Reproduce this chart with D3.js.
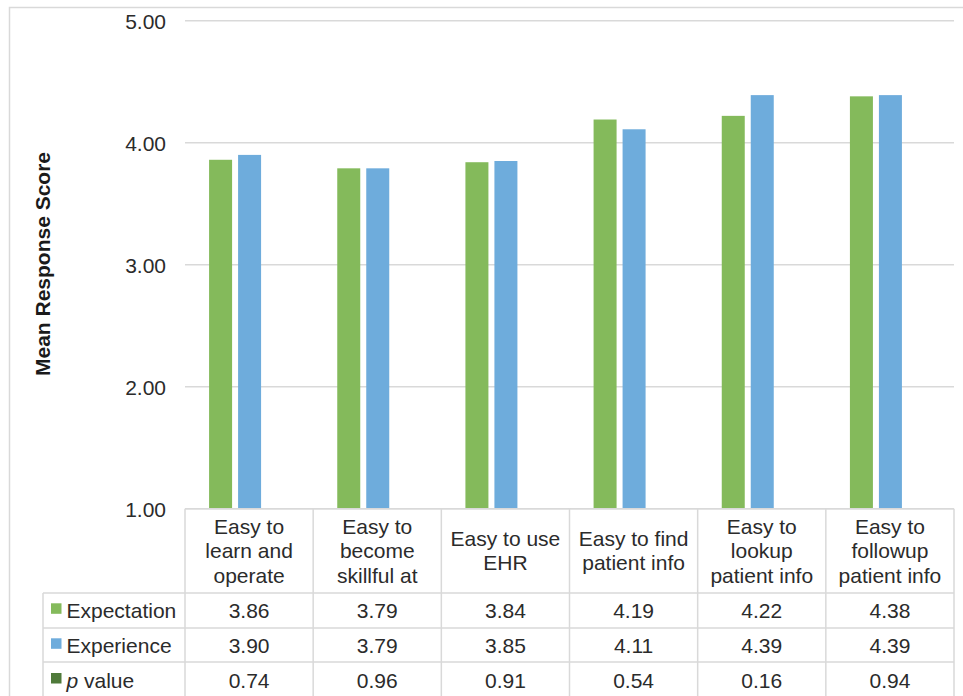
<!DOCTYPE html>
<html>
<head>
<meta charset="utf-8">
<script src="https://cdn.jsdelivr.net/npm/d3@7/dist/d3.min.js"></script>
<style>
  html, body { margin: 0; padding: 0; background: #fff; }
  svg { display: block; font-family: "Liberation Sans", Arial, sans-serif; }
</style>
</head>
<body>
<svg id="chart" width="963" height="696"></svg>
<script>
// Survey items (header lines of the data table)
const categories = [
  ["Easy to", "learn and", "operate"],
  ["Easy to", "become", "skillful at"],
  ["Easy to use", "EHR"],
  ["Easy to find", "patient info"],
  ["Easy to", "lookup", "patient info"],
  ["Easy to", "followup", "patient info"]
];
const expectation = [3.86, 3.79, 3.84, 4.19, 4.22, 4.38];
const experience  = [3.90, 3.79, 3.85, 4.11, 4.39, 4.39];
const pValues     = [0.74, 0.96, 0.91, 0.54, 0.16, 0.94];
const yTicks      = [1, 2, 3, 4, 5];
const seriesNames = ["Expectation", "Experience", "p value"];
const seriesColors = ["#84ba5b", "#6eacdc", "#4f7a3a"];

const svg = d3.select("#chart");
const W = 963, H = 696;
const plotLeft = 185, plotRight = 954, plotTop = 20.7, plotBottom = 508.7;
const gridColor = "#d9d9d9", textColor = "#2b2b2b";
const fontSize = 21;

// Outer chart frame
svg.append("rect")
  .attr("x", 9.5).attr("y", 7.5).attr("width", 970).attr("height", 700)
  .attr("fill", "none").attr("stroke", gridColor).attr("stroke-width", 1.5);

const keys = categories.map((c, i) => "c" + i);
const x = d3.scaleBand().domain(keys).range([plotLeft, plotRight]);
const y = d3.scaleLinear().domain([1, 5]).range([plotBottom, plotTop]);

// Bars sit slightly left of their table columns
const barShift = -14;
const barW = 23, barGap = 6;

// Gridlines
svg.append("g").selectAll("line").data(yTicks).join("line")
  .attr("x1", plotLeft).attr("x2", plotRight)
  .attr("y1", d => y(d)).attr("y2", d => y(d))
  .attr("stroke", gridColor).attr("stroke-width", 1.5);

// Y axis tick labels
const yAxis = d3.axisLeft(y).tickValues(yTicks).tickFormat(d3.format(".2f")).tickSize(0).tickPadding(0);
const yg = svg.append("g").attr("transform", `translate(166,0)`).call(yAxis);
yg.select(".domain").remove();
yg.selectAll("text")
  .attr("font-size", fontSize).attr("fill", textColor)
  .attr("font-family", "Liberation Sans, Arial, sans-serif")
  .attr("dy", "0.35em");

// Y axis title
svg.append("text")
  .attr("transform", `translate(50,264) rotate(-90)`)
  .attr("text-anchor", "middle")
  .attr("font-size", 21).attr("font-weight", "bold").attr("fill", "#1a1a1a")
  .text("Mean Response Score");

// Bars
const series = [expectation, experience];
series.forEach((vals, s) => {
  svg.append("g").selectAll("rect").data(vals).join("rect")
    .attr("x", (d, i) => x(keys[i]) + x.bandwidth() / 2 + barShift + (s === 0 ? -(barW + barGap / 2) : barGap / 2))
    .attr("width", barW)
    .attr("y", d => y(d))
    .attr("height", d => y(1) - y(d))
    .attr("fill", seriesColors[s]);
});

// Data table
const tableTop = plotBottom, headerBottom = 593;
const rowH = 35, legendLeft = 43;
const table = svg.append("g");
const lineAttrs = sel => sel.attr("stroke", gridColor).attr("stroke-width", 1.5);

// Horizontal rules
table.append("line").attr("x1", plotLeft).attr("x2", plotRight).attr("y1", tableTop).attr("y2", tableTop).call(lineAttrs);
for (let r = 0; r < 4; r++) {
  const yy = headerBottom + r * rowH - (r === 2 ? 1 : 0);
  table.append("line").attr("x1", legendLeft).attr("x2", plotRight).attr("y1", yy).attr("y2", yy).call(lineAttrs);
}
// Vertical rules
table.append("line").attr("x1", legendLeft).attr("x2", legendLeft).attr("y1", headerBottom).attr("y2", H + 5).call(lineAttrs);
keys.concat(["end"]).forEach((k, i) => {
  const xx = i < keys.length ? x(k) : plotRight;
  table.append("line").attr("x1", xx).attr("x2", xx).attr("y1", tableTop).attr("y2", H + 5).call(lineAttrs);
});

// Header labels
const lineH = 24.5, headerMid = 558;
categories.forEach((lines, i) => {
  const cx = x(keys[i]) + x.bandwidth() / 2;
  const t = table.append("text").attr("text-anchor", "middle")
    .attr("font-size", fontSize).attr("fill", textColor);
  lines.forEach((ln, j) => {
    t.append("tspan").attr("x", cx)
      .attr("y", headerMid + (j - (lines.length - 1) / 2) * lineH)
      .text(ln);
  });
});

// Value rows
const rows = [expectation, experience, pValues];
const rowBaselines = [618.3, 653.3, 688];
rows.forEach((vals, r) => {
  table.append("g").selectAll("text").data(vals).join("text")
    .attr("x", (d, i) => x(keys[i]) + x.bandwidth() / 2)
    .attr("y", rowBaselines[r])
    .attr("text-anchor", "middle")
    .attr("font-size", fontSize).attr("fill", textColor)
    .text(d => d3.format(".2f")(d));

  // Legend key and name
  table.append("rect")
    .attr("x", 51).attr("y", rowBaselines[r] - 15).attr("width", 10.5).attr("height", 10.5)
    .attr("fill", seriesColors[r]);
  const lbl = table.append("text")
    .attr("x", 66.5).attr("y", rowBaselines[r])
    .attr("font-size", fontSize).attr("fill", textColor);
  if (r === 2) {
    lbl.append("tspan").attr("font-style", "italic").text("p");
    lbl.append("tspan").text(" value");
  } else {
    lbl.text(seriesNames[r]);
  }
});
</script>
</body>
</html>
